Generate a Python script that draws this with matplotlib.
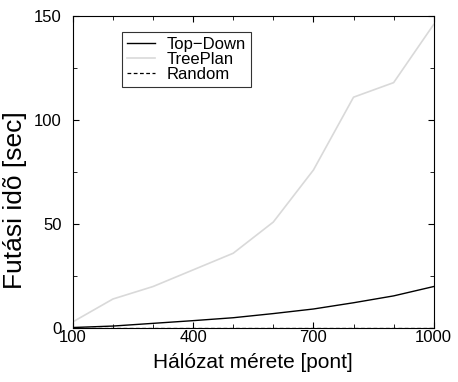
import matplotlib
matplotlib.use("Agg")
import matplotlib.pyplot as plt
from matplotlib.ticker import MultipleLocator

plt.rcParams['font.family'] = ['Liberation Sans', 'DejaVu Sans']

# Data
sizes = [100, 200, 300, 400, 500, 600, 700, 800, 900, 1000]
top_down = [0.3, 1.0, 2.3, 3.6, 5.0, 7.0, 9.2, 12.2, 15.5, 20.0]
tree_plan = [3, 14, 20, 28, 36, 51, 76, 111, 118, 146]
random_t = [0.1, 0.1, 0.1, 0.1, 0.1, 0.1, 0.1, 0.1, 0.1, 0.1]

fig = plt.figure(figsize=(4.58, 3.82), dpi=100)
ax = fig.add_axes([0.159, 0.141, 0.788, 0.817])

ax.plot(sizes, top_down, color='black', lw=1.0, label='Top\u2212Down')
ax.plot(sizes, tree_plan, color='#d9d9d9', lw=1.2, label='TreePlan')
ax.plot(sizes, random_t, color='black', lw=0.9, ls=(0, (3, 2)), label='Random')

ax.set_xlim(100, 1000)
ax.set_ylim(0, 150)
ax.set_xticks([100, 400, 700, 1000])
ax.xaxis.set_minor_locator(MultipleLocator(100))
ax.set_yticks([0, 50, 100, 150])
ax.yaxis.set_minor_locator(MultipleLocator(25))
ax.tick_params(which='both', direction='in', top=True, right=True, labelsize=12)
ax.tick_params(which='major', length=4)
ax.tick_params(which='minor', length=3)
ax.tick_params(axis='x', pad=1)
ax.tick_params(axis='y', pad=8)

ax.set_xlabel('Hálózat mérete [pont]', fontsize=15)
ax.xaxis.set_label_coords(0.5, -0.08)
ax.set_ylabel('Futási idõ [sec]', fontsize=19)
ax.yaxis.set_label_coords(-0.128, 0.41)

leg = ax.legend(loc='upper left', bbox_to_anchor=(0.136, 0.949), borderaxespad=0,
                fontsize=12, frameon=True, fancybox=False, handlelength=1.7,
                labelspacing=0.0, borderpad=0.3, handletextpad=0.7)
leg.get_frame().set_edgecolor('black')
leg.get_frame().set_linewidth(0.8)

fig.savefig('out.png', dpi=100)
